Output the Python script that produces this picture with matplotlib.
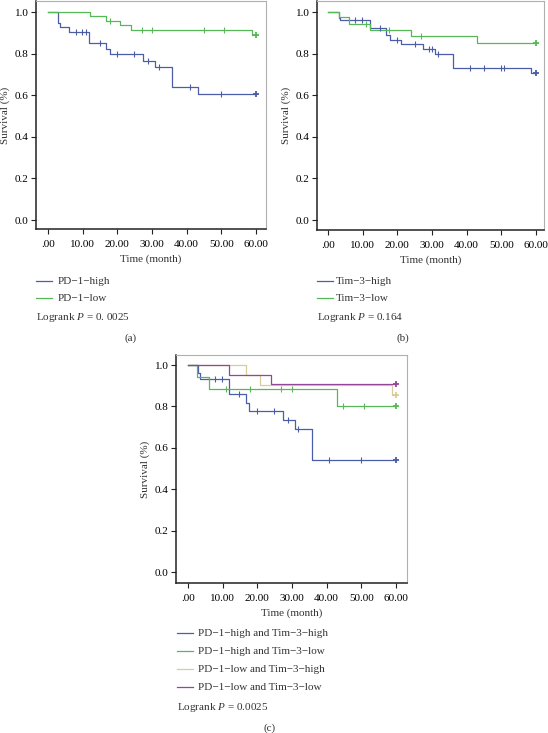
"""Kaplan-Meier curves for PD-1 / Tim-3 groups, three panels."""
import numpy as np
import matplotlib

matplotlib.use("Agg")
import matplotlib.pyplot as plt
from matplotlib.lines import Line2D

plt.rcParams["font.family"] = ["Liberation Serif", "DejaVu Serif"]
plt.rcParams["mathtext.fontset"] = "custom"
plt.rcParams["mathtext.rm"] = "Liberation Serif"
plt.rcParams["mathtext.it"] = "Liberation Serif:italic"

W, H = 548, 733
FS = 8

BLUE = "#4b5ca8"
GREEN = "#56b856"
TAN = "#dccb9a"
PURPLE = "#93479b"

x_ticks = [0, 10, 20, 30, 40, 50, 60]
x_tick_labels = [".00", "10.00", "20.00", "30.00", "40.00", "50.00", "60.00"]
y_ticks = [0.0, 0.2, 0.4, 0.6, 0.8, 1.0]

# panel (a)
pd1_high_t = [2.9, 3.5, 6.0, 11.8, 16.8, 17.8, 27.5, 30.8, 35.9, 43.3]
pd1_high_s = [0.949, 0.929, 0.902, 0.849, 0.822, 0.796, 0.766, 0.735, 0.639, 0.604]
pd1_high_c = [8.0, 9.8, 10.9, 14.9, 19.9, 24.9, 28.9, 32.0, 40.9, 49.8]
pd1_low_t = [12.0, 16.7, 20.9, 23.9, 58.8]
pd1_low_s = [0.979, 0.958, 0.936, 0.913, 0.889]
pd1_low_c = [17.8, 27.0, 29.9, 44.9, 50.9]

# panel (b)
tim3_high_t = [3.2, 3.6, 12.0, 16.8, 18.0, 21.0, 27.5, 31.0, 36.1, 58.7]
tim3_high_s = [0.970, 0.961, 0.923, 0.888, 0.865, 0.844, 0.822, 0.800, 0.730, 0.706]
tim3_high_c = [7.9, 9.8, 14.9, 20.0, 25.0, 29.1, 29.9, 31.8, 41.0, 45.0, 49.9, 50.8]
tim3_low_t = [3.2, 6.0, 12.0, 23.8, 43.1]
tim3_low_s = [0.975, 0.942, 0.913, 0.884, 0.852]
tim3_low_c = [11.0, 17.7, 26.7]

# panel (c)
hh_t = [2.9, 3.4, 11.8, 16.6, 17.6, 27.5, 30.8, 35.9]
hh_s = [0.961, 0.934, 0.859, 0.818, 0.780, 0.736, 0.690, 0.543]
hh_c = [7.7, 9.8, 14.8, 19.8, 24.8, 28.9, 31.8, 40.8, 49.9]
hl_t = [2.7, 6.0, 43.1]
hl_s = [0.943, 0.883, 0.804]
hl_c = [11.1, 17.8, 26.8, 29.9, 44.8, 50.9]
lh_t = [16.7, 20.8, 58.8]
lh_s = [0.952, 0.905, 0.857]
lh_c = []
ll_t = [11.9, 24.0]
ll_s = [0.953, 0.907]
ll_c = []

END_T = 60.0


def surv_at(times, surv, t):
    idx = np.searchsorted(times, t, side="right")
    return 1.0 if idx == 0 else surv[idx - 1]


def km(ax, times, surv, cens, color):
    xs = [0.0] + list(times) + [END_T]
    ys = [1.0] + list(surv) + [surv[-1] if surv else 1.0]
    ax.step(xs, ys, where="post", color=color, lw=0.9, zorder=3)
    if cens:
        cy = [surv_at(times, surv, t) for t in cens]
        ax.plot(cens, cy, ls="none", marker="|", ms=4, mew=0.8, color=color, zorder=4)
    ax.plot([END_T], [ys[-1]], ls="none", marker="+", ms=5, mew=1.3, color=color, zorder=5)


def make_axes(fig, left, right, top, bottom, x0, x60, y1, y0):
    ax = fig.add_axes([left / W, 1 - bottom / H, (right - left) / W, (bottom - top) / H])
    px_x = (x60 - x0) / 60.0
    px_y = (y0 - y1) / 1.0
    ax.set_xlim((left - x0) / px_x, 60 + (right - x60) / px_x)
    ax.set_ylim(-(bottom - y0) / px_y, 1 + (y1 - top) / px_y)
    ax.set_xticks(x_ticks)
    ax.set_xticklabels(x_tick_labels)
    ax.set_yticks(y_ticks)
    ax.set_yticklabels([f"{v:.1f}" for v in y_ticks])
    ax.tick_params(axis="x", length=3.5, width=0.8, pad=4.5, labelsize=FS, color="#222222")
    ax.tick_params(axis="y", length=3.5, width=0.8, pad=2, labelsize=FS, color="#222222")
    for side in ("left", "bottom"):
        ax.spines[side].set_color("#222222")
        ax.spines[side].set_linewidth(1.1)
    for side in ("top", "right"):
        ax.spines[side].set_color("#b0b0b0")
        ax.spines[side].set_linewidth(0.8)
    ax.set_ylabel("Survival (%)", fontsize=FS, labelpad=3, color="#333333")
    ax.set_xlabel("Time (month)", fontsize=FS, labelpad=3.5, color="#333333")
    return ax


def legend_rows(fig, x_line, x_text, ys, colors, labels):
    for y, c, lab in zip(ys, colors, labels):
        fig.add_artist(Line2D([x_line / W, (x_line + 16) / W], [1 - y / H, 1 - y / H],
                              color=c, lw=0.9))
        fig.text(x_text / W, 1 - y / H, lab, fontsize=FS, va="center", ha="left",
                 color="#333333")


fig = plt.figure(figsize=(W / 100, H / 100), dpi=100)

ax_a = make_axes(fig, 36, 266, 1, 229, 48, 256, 12, 220)
km(ax_a, pd1_high_t, pd1_high_s, pd1_high_c, BLUE)
km(ax_a, pd1_low_t, pd1_low_s, pd1_low_c, GREEN)
legend_rows(fig, 36, 58, [281, 298], [BLUE, GREEN], ["PD\u22121\u2212high", "PD\u22121\u2212low"])
fig.text(36 / W, 1 - 317 / H, r"Logrank $P$ = 0. 0025", fontsize=FS, va="center", color="#333333")
fig.text(131 / W, 1 - 338 / H, "(a)", fontsize=FS, ha="center", va="center", color="#333333")

ax_b = make_axes(fig, 317, 544, 1, 230, 328, 536, 12, 220)
km(ax_b, tim3_high_t, tim3_high_s, tim3_high_c, BLUE)
km(ax_b, tim3_low_t, tim3_low_s, tim3_low_c, GREEN)
legend_rows(fig, 317, 336, [281, 298], [BLUE, GREEN], ["Tim\u22123\u2212high", "Tim\u22123\u2212low"])
fig.text(317 / W, 1 - 317 / H, r"Logrank $P$ = 0.164", fontsize=FS, va="center", color="#333333")
fig.text(403 / W, 1 - 338 / H, "(b)", fontsize=FS, ha="center", va="center", color="#333333")

ax_c = make_axes(fig, 176, 407, 355, 583, 188, 396, 365, 572)
km(ax_c, lh_t, lh_s, lh_c, TAN)
km(ax_c, hh_t, hh_s, hh_c, BLUE)
km(ax_c, hl_t, hl_s, hl_c, GREEN)
km(ax_c, ll_t, ll_s, ll_c, PURPLE)
legend_rows(fig, 177, 198, [633, 651, 669, 687], [BLUE, GREEN, TAN, PURPLE],
            ["PD\u22121\u2212high and Tim\u22123\u2212high",
             "PD\u22121\u2212high and Tim\u22123\u2212low",
             "PD\u22121\u2212low and Tim\u22123\u2212high",
             "PD\u22121\u2212low and Tim\u22123\u2212low"])
fig.text(177 / W, 1 - 707 / H, r"Logrank $P$ = 0.0025", fontsize=FS, va="center", color="#333333")
fig.text(270 / W, 1 - 728 / H, "(c)", fontsize=FS, ha="center", va="center", color="#333333")

fig.savefig("out.png", dpi=100)
